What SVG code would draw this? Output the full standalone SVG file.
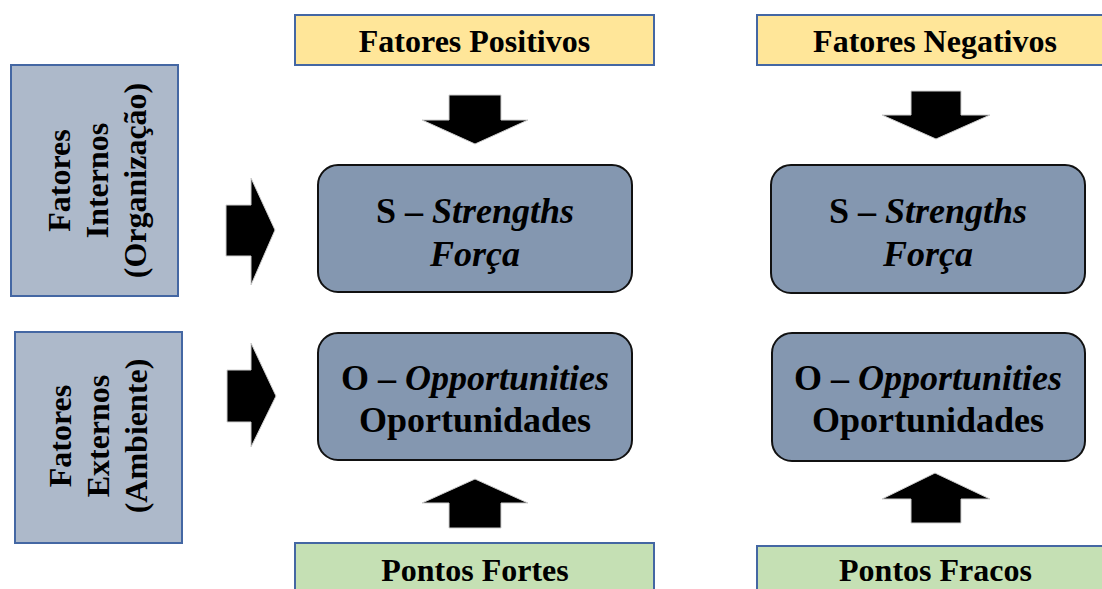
<svg xmlns="http://www.w3.org/2000/svg" width="1102" height="589" viewBox="0 0 1102 589">
<style>
.hdr{fill:#FFE699;stroke:#4467A3;stroke-width:2}
.ftr{fill:#C5E0B4;stroke:#4467A3;stroke-width:2}
.side{fill:#ADB9CA;stroke:#4467A3;stroke-width:2}
.core{fill:#8497B0;stroke:#111;stroke-width:2}
.arr{fill:#000;stroke:#cfcfcf;stroke-width:1}
text{font-family:"Liberation Serif","Times New Roman",serif;font-weight:bold;fill:#000;text-anchor:middle}
.t32{font-size:32px}
.t36{font-size:36px}
.it{font-style:italic}
</style>
<rect width="1102" height="589" fill="#fff"/>
<g id="fatores-positivos"><rect class="hdr" x="295" y="15" width="359" height="50"/><text class="t32" x="474.5" y="52">Fatores Positivos</text></g>
<g id="fatores-negativos"><rect class="hdr" x="757" y="15" width="360" height="50"/><text class="t32" x="935" y="52">Fatores Negativos</text></g>
<g id="fatores-internos"><rect class="side" x="11" y="65" width="167" height="231"/>
<g transform="translate(0,180.5) rotate(-90)" class="t32"><text x="0" y="70">Fatores</text><text x="0" y="108">Internos</text><text x="0" y="146">(Organização)</text></g></g>
<g id="fatores-externos"><rect class="side" x="15" y="332" width="167" height="211"/>
<g transform="translate(0,436) rotate(-90)" class="t32"><text x="0" y="71">Fatores</text><text x="0" y="109">Externos</text><text x="0" y="147">(Ambiente)</text></g></g>
<g id="s-positivo"><rect class="core" x="318" y="165" width="314" height="127" rx="20"/><text class="t36" x="475" y="223">S – <tspan class="it">Strengths</tspan></text><text class="t36 it" x="475" y="266">Força</text></g>
<g id="s-negativo"><rect class="core" x="771" y="165" width="314" height="128" rx="20"/><text class="t36" x="928" y="223">S – <tspan class="it">Strengths</tspan></text><text class="t36 it" x="928" y="266">Força</text></g>
<g id="o-positivo"><rect class="core" x="318" y="333" width="314" height="127" rx="20"/><text class="t36" x="475" y="390">O – <tspan class="it">Opportunities</tspan></text><text class="t36" x="475" y="432">Oportunidades</text></g>
<g id="o-negativo"><rect class="core" x="772" y="333" width="313" height="128" rx="20"/><text class="t36" x="928" y="390">O – <tspan class="it">Opportunities</tspan></text><text class="t36" x="928" y="432">Oportunidades</text></g>
<g id="pontos-fortes"><rect class="ftr" x="295" y="543" width="359" height="60"/><text class="t32" x="475" y="581">Pontos Fortes</text></g>
<g id="pontos-fracos"><rect class="ftr" x="757" y="546" width="360" height="60"/><text class="t32" x="935.5" y="581">Pontos Fracos</text></g>
<g id="connectors">
<polygon class="arr" points="226,205 251,205 251,178 275,230 251,285 251,256 226,256"/>
<polygon class="arr" points="227,370 251,370 251,343 276,396 251,447 251,422 227,422"/>
<polygon class="arr" points="449,95 501,95 501,120 528,120 475,144 422,120 449,120"/>
<polygon class="arr" points="911,91 961,91 961,115 990,115 936,139 882,115 911,115"/>
<polygon class="arr" points="449,528 501,528 501,503 528,503 475,479 422,503 449,503"/>
<polygon class="arr" points="911,523 961,523 961,499 990,499 935,473 882,499 911,499"/>
</g>
</svg>
